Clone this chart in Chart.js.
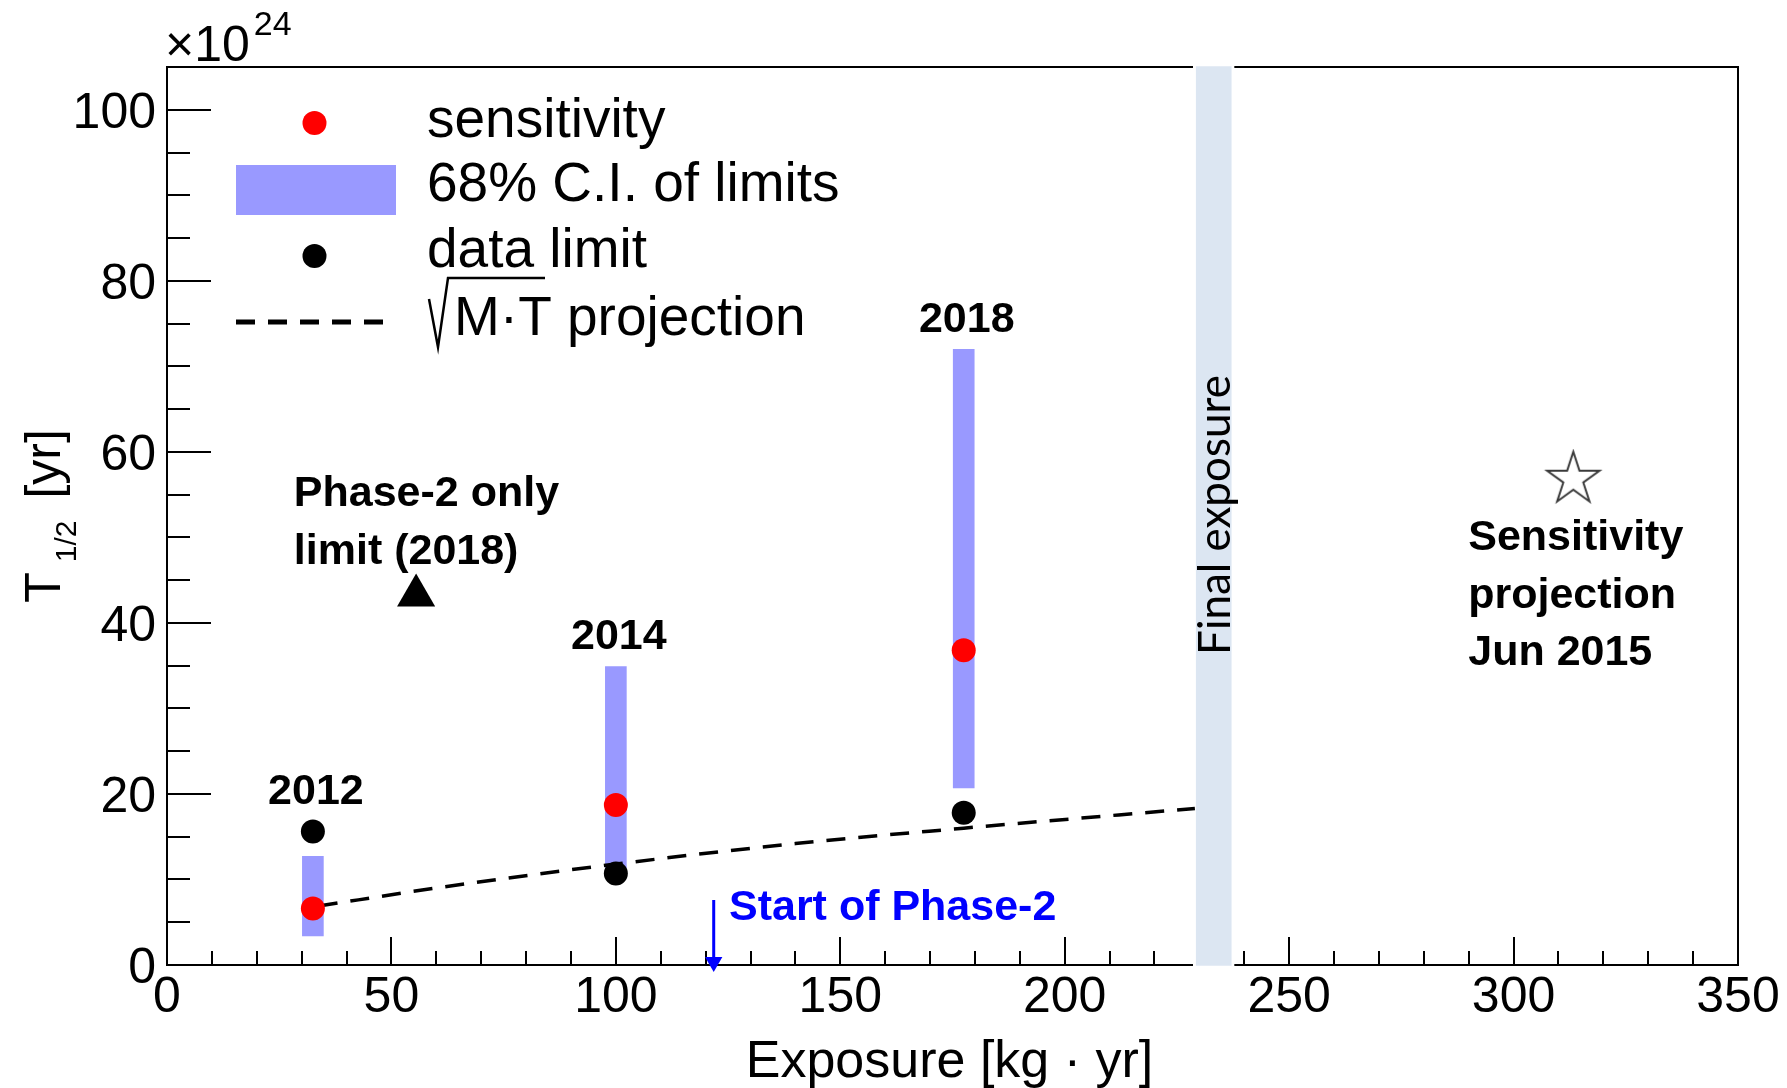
<!DOCTYPE html>
<html>
<head>
<meta charset="utf-8">
<title>Exposure vs T1/2</title>
<script src="https://cdn.jsdelivr.net/npm/chart.js@4.4.1/dist/chart.umd.min.js"></script>
<style>
  html, body { margin: 0; padding: 0; background: #fff; }
</style>
</head>
<body>
<canvas id="myChart" width="1787" height="1088"></canvas>
<script>
// ---- values (x = exposure kg*yr, y = T1/2 in 1e24 yr) ----
const years       = ['2012', '2014', '2018'];
const exposure    = [32.5, 100, 177.5];
const sensitivity = [6.6, 18.7, 36.8];
const dataLimit   = [15.6, 10.7, 17.8];
const ciLow       = [3.4, 10.5, 20.7];
const ciHigh      = [12.7, 34.9, 72.0];

// sqrt(M.T) projection
const projX = [33.8, 60, 100, 140, 177.5, 229];
const projY = [6.9, 9.0, 11.8, 14.2, 16.0, 18.3];

const phase2Only   = [55.5, 43.2];     // triangle
const projJun2015  = [313.3, 56.8];    // open star
const finalExpo    = [229.3, 237.1];   // shaded band
const phase2StartX = 121.8;

const xTicks = [0, 50, 100, 150, 200, 250, 300, 350];
const yTicks = [0, 20, 40, 60, 80, 100];

const FONT = '"Liberation Sans", Arial, Helvetica, sans-serif';
Chart.defaults.font.family = FONT;
Chart.defaults.color = '#000';

var ctx = document.getElementById('myChart').getContext('2d');

// open five point star used as point style
function starImage(r) {
  const c = document.createElement('canvas');
  const s = Math.ceil(2 * r + 6);
  c.width = s; c.height = s;
  const g = c.getContext('2d');
  g.beginPath();
  for (let k = 0; k < 10; k++) {
    const rr = k % 2 ? r * 0.382 : r;
    const ang = -Math.PI / 2 + k * Math.PI / 5;
    const px = s / 2 + rr * Math.cos(ang), py = s / 2 + rr * Math.sin(ang);
    if (k) g.lineTo(px, py); else g.moveTo(px, py);
  }
  g.closePath();
  g.fillStyle = '#fff'; g.fill();
  g.strokeStyle = '#3a3a3a'; g.lineWidth = 2; g.stroke();
  return c;
}

function txt(c, s, x, y, font, color, align) {
  c.font = font;
  c.fillStyle = color || '#000';
  c.textAlign = align || 'left';
  c.textBaseline = 'alphabetic';
  c.fillText(s, x, y);
}

const pts = (xs, ys) => xs.map((v, i) => ({x: v, y: ys[i]}));

// frame, inward ticks, texts and legend
const decor = {
  id: 'decor',
  beforeDatasetsDraw(chart) {
    const {ctx: c, chartArea: a, scales: {x, y}} = chart;
    c.save();
    c.strokeStyle = '#000';
    c.lineWidth = 2;
    c.strokeRect(a.left, a.top, a.right - a.left, a.bottom - a.top);
    c.beginPath();
    for (let v = 0; v <= 105; v += 5) {
      const py = Math.round(y.getPixelForValue(v));
      const len = yTicks.includes(v) ? 44 : 23;
      c.moveTo(a.left, py); c.lineTo(a.left + len, py);
    }
    for (let v = 0; v <= 350; v += 10) {
      const px = Math.round(x.getPixelForValue(v));
      const len = xTicks.includes(v) ? 28 : 14;
      c.moveTo(px, a.bottom); c.lineTo(px, a.bottom - len);
    }
    c.stroke();
    c.restore();
  },
  afterDraw(chart) {
    const {ctx: c, chartArea: a, scales: {x, y}} = chart;
    const ds = chart.data.datasets;
    c.save();

    // year labels above each release
    const yearY = [18.8, 36.9, 74.0];
    years.forEach((s, i) => {
      txt(c, s, x.getPixelForValue(exposure[i]) + 3, y.getPixelForValue(yearY[i]), 'bold 43px ' + FONT, '#000', 'center');
    });

    txt(c, 'Phase-2 only', x.getPixelForValue(28.25), y.getPixelForValue(53.7), 'bold 43px ' + FONT);
    txt(c, 'limit (2018)', x.getPixelForValue(28.25), y.getPixelForValue(46.9), 'bold 43px ' + FONT);

    txt(c, 'Sensitivity', x.getPixelForValue(289.9), y.getPixelForValue(48.5), 'bold 43px ' + FONT);
    txt(c, 'projection', x.getPixelForValue(289.9), y.getPixelForValue(41.7), 'bold 43px ' + FONT);
    txt(c, 'Jun 2015', x.getPixelForValue(289.9), y.getPixelForValue(35.1), 'bold 43px ' + FONT);

    txt(c, 'Start of Phase-2', x.getPixelForValue(125.2), y.getPixelForValue(5.24), 'bold 43px ' + FONT, '#0000ff');

    // rotated label inside the final exposure band
    const bandMid = x.getPixelForValue((finalExpo[0] + finalExpo[1]) / 2);
    c.save();
    c.font = '44px Lato, "Open Sans", sans-serif';
    c.translate(bandMid + 16, (a.top + a.bottom) / 2 - 1);
    c.rotate(-Math.PI / 2);
    c.fillStyle = '#000';
    c.textAlign = 'center';
    c.textBaseline = 'alphabetic';
    c.fillText('Final exposure', 0, 0);
    c.restore();

    // legend
    const lx = a.left + 147.5, tx = a.left + 260;
    c.fillStyle = ds[0].backgroundColor;
    c.beginPath(); c.arc(lx, a.top + 56, 12, 0, 2 * Math.PI); c.fill();
    c.fillStyle = ds[7].backgroundColor;
    c.fillRect(a.left + 69, a.top + 98, 160, 50);
    c.fillStyle = ds[1].backgroundColor;
    c.beginPath(); c.arc(lx, a.top + 189, 12, 0, 2 * Math.PI); c.fill();
    c.strokeStyle = ds[6].borderColor;
    c.lineWidth = 5;
    c.setLineDash(ds[6].borderDash);
    c.beginPath(); c.moveTo(a.left + 69, a.top + 255); c.lineTo(a.left + 218, a.top + 255); c.stroke();
    c.setLineDash([]);

    const lf = '55px ' + FONT;
    txt(c, 'sensitivity', tx, a.top + 69.7, lf);
    txt(c, '68% C.I. of limits', tx, a.top + 133.7, lf);
    txt(c, 'data limit', tx, a.top + 199.7, lf);
    // square root sign
    c.strokeStyle = '#000';
    c.lineWidth = 2.5;
    c.beginPath();
    c.moveTo(a.left + 262, a.top + 232);
    c.lineTo(a.left + 271, a.top + 280);
    c.lineTo(a.left + 281, a.top + 211);
    c.lineTo(a.left + 378, a.top + 211);
    c.stroke();
    txt(c, 'M·T projection', a.left + 287, a.top + 268, lf);

    // axis titles
    txt(c, 'Exposure [kg · yr]', (a.left + a.right) / 2 - 3, 1077, '52px ' + FONT, '#000', 'center');

    c.save();
    c.translate(60, (a.top + a.bottom) / 2);
    c.rotate(-Math.PI / 2);
    c.font = '50px ' + FONT;
    const wT = c.measureText('T').width, wY = c.measureText('[yr]').width;
    c.font = '30px ' + FONT;
    const wS = c.measureText('1/2').width;
    let cx = -(wT + 10 + wS + 22 + wY) / 2;
    txt(c, 'T', cx, 0, '50px ' + FONT);
    cx += wT + 10;
    txt(c, '1/2', cx, 16, '30px ' + FONT);
    cx += wS + 22;
    txt(c, '[yr]', cx, 0, '50px ' + FONT);
    c.restore();

    // exponent of the y axis
    c.font = '50px ' + FONT;
    const wx = c.measureText('×10').width;
    txt(c, '×10', a.left - 2, 61, '50px ' + FONT);
    txt(c, '24', a.left - 2 + wx + 4, 35, '34px ' + FONT);

    c.restore();
  }
};

new Chart(ctx, {
  type: 'scatter',
  data: {
    datasets: [{
      label: 'sensitivity',
      data: pts(exposure, sensitivity),
      backgroundColor: '#ff0000',
      borderWidth: 0,
      pointRadius: 12
    }, {
      label: 'data limit',
      data: pts(exposure, dataLimit),
      backgroundColor: '#000000',
      borderWidth: 0,
      pointRadius: 12
    }, {
      label: 'Phase-2 only limit (2018)',
      data: [{x: phase2Only[0], y: phase2Only[1]}],
      backgroundColor: '#000000',
      borderWidth: 0,
      pointStyle: 'triangle',
      pointRadius: 22
    }, {
      label: 'Sensitivity projection Jun 2015',
      data: [{x: projJun2015[0], y: projJun2015[1]}],
      pointStyle: starImage(27.5),
      pointRadius: 27
    }, {
      label: 'Start of Phase-2 arrow head',
      data: [{x: phase2StartX, y: 0.35}],
      backgroundColor: '#0000ff',
      borderWidth: 0,
      pointStyle: 'triangle',
      rotation: 180,
      pointRadius: 10,
      clip: false
    }, {
      type: 'line',
      label: 'Start of Phase-2',
      data: [{x: phase2StartX, y: 7.6}, {x: phase2StartX, y: 0.9}],
      borderColor: '#0000ff',
      borderWidth: 3,
      pointRadius: 0,
      clip: false
    }, {
      type: 'line',
      label: 'sqrt(M.T) projection',
      data: pts(projX, projY),
      borderColor: '#000000',
      borderWidth: 3.5,
      borderDash: [19, 13],
      cubicInterpolationMode: 'monotone',
      pointRadius: 0,
      fill: false
    }, {
      type: 'bar',
      label: '68% C.I. of limits',
      data: exposure.map((v, i) => ({x: v, y: [ciLow[i], ciHigh[i]]})),
      backgroundColor: '#9999ff',
      borderWidth: 0,
      barThickness: 21,
      grouped: false
    }, {
      type: 'bar',
      label: 'Final exposure',
      data: [{x: (finalExpo[0] + finalExpo[1]) / 2, y: [-0.4, 105.4]}],
      backgroundColor: '#dce6f2',
      borderColor: '#ffffff',
      borderWidth: 3,
      borderSkipped: false,
      barThickness: 41,
      grouped: false,
      clip: false
    }]
  },
  options: {
    responsive: false,
    animation: false,
    events: [],
    layout: {padding: {left: 0, top: 67, right: 49, bottom: 0}},
    plugins: {
      legend: {display: false},
      tooltip: {enabled: false}
    },
    scales: {
      x: {
        type: 'linear',
        min: 0,
        max: 350,
        offset: false,
        grid: {display: false, drawTicks: false, offset: false},
        border: {display: false},
        ticks: {font: {size: 50}, color: '#000', padding: 3, maxRotation: 0, autoSkip: false},
        afterBuildTicks: s => { s.ticks = xTicks.map(v => ({value: v})); },
        afterFit: s => { s.height = 123; }
      },
      y: {
        type: 'linear',
        min: 0,
        max: 105,
        grid: {display: false, drawTicks: false},
        border: {display: false},
        ticks: {font: {size: 50}, color: '#000', padding: 11, labelOffset: 4},
        afterBuildTicks: s => { s.ticks = yTicks.map(v => ({value: v})); },
        afterFit: s => { s.width = 167; }
      }
    }
  },
  plugins: [decor]
});
</script>
</body>
</html>
